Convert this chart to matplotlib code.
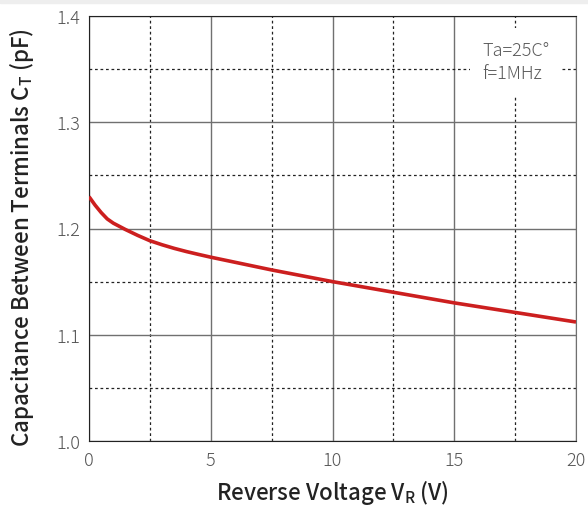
import matplotlib; matplotlib.use("Agg")
import matplotlib.pyplot as plt
import numpy as np
from matplotlib.ticker import MultipleLocator

plt.rcParams['font.family'] = ['Noto Sans CJK JP', 'DejaVu Sans']

# reverse voltage (V) vs capacitance (pF)
vr = [0, 0.25, 0.5, 0.75, 1.0, 1.5, 2.0, 2.5, 3.0, 3.5, 4.0, 4.5, 5.0, 7.5, 10.0, 12.5, 15.0, 17.5, 20.0]
ct = [1.230, 1.222, 1.215, 1.209, 1.205, 1.199, 1.1935, 1.1885, 1.1847, 1.1813, 1.1783, 1.1756, 1.1730, 1.161, 1.150, 1.140, 1.130, 1.121, 1.112]
xticks = [0, 5, 10, 15, 20]
yticks = [1.0, 1.1, 1.2, 1.3, 1.4]
note = "Ta=25C°\nf=1MHz"

fig = plt.figure(figsize=(5.88, 5.10), dpi=100)
fig.patches.append(plt.Rectangle((0, 0.992), 1, 0.008, transform=fig.transFigure, color="#eeeeee", zorder=0))
ax = fig.add_axes([89/588, 68/510, 487/588, 425/510])
ax.set_xlim(0, 20); ax.set_ylim(1.0, 1.4)
ax.set_xticks(xticks); ax.set_yticks(yticks)
ax.set_xticklabels([str(t) for t in xticks], fontweight="light")
ax.set_yticklabels(["%.1f" % t for t in yticks], fontweight="light")
ax.xaxis.set_minor_locator(MultipleLocator(2.5)); ax.yaxis.set_minor_locator(MultipleLocator(0.05))
ax.grid(which="major", color="#707070", lw=1.0, ls="-")
ax.grid(which="minor", color="#222222", lw=0.9, ls=(0, (2.2, 2.2)))
ax.set_axisbelow(True)
ax.tick_params(which="both", length=0, labelsize=13, labelcolor="#555555")
ax.tick_params(axis="y", pad=6); ax.tick_params(axis="x", pad=7)
for s in ("top", "left", "bottom"): ax.spines[s].set_color("#222222")
ax.spines["right"].set_color("#707070")
ax.plot(vr, ct, color="#cc1f1f", lw=2.6, solid_capstyle="butt", zorder=3)
ax.text(17.54, 1.357, note, fontsize=13, fontweight="light", color="#5a5a5a", va="center", ha="center",
        multialignment="left", linespacing=1.4,
        bbox=dict(facecolor="white", edgecolor="none", pad=9), zorder=2)
ax.set_xlabel(r"Reverse Voltage V$_\mathregular{R}$ (V)", fontsize=16, fontweight="medium", color="#222222", labelpad=6)
ax.set_ylabel(r"Capacitance Between Terminals C$_\mathregular{T}$ (pF)", fontsize=16, fontweight="medium", color="#222222")
ax.yaxis.set_label_coords(-0.109, 0.48)
plt.savefig("out.png", dpi=100)
